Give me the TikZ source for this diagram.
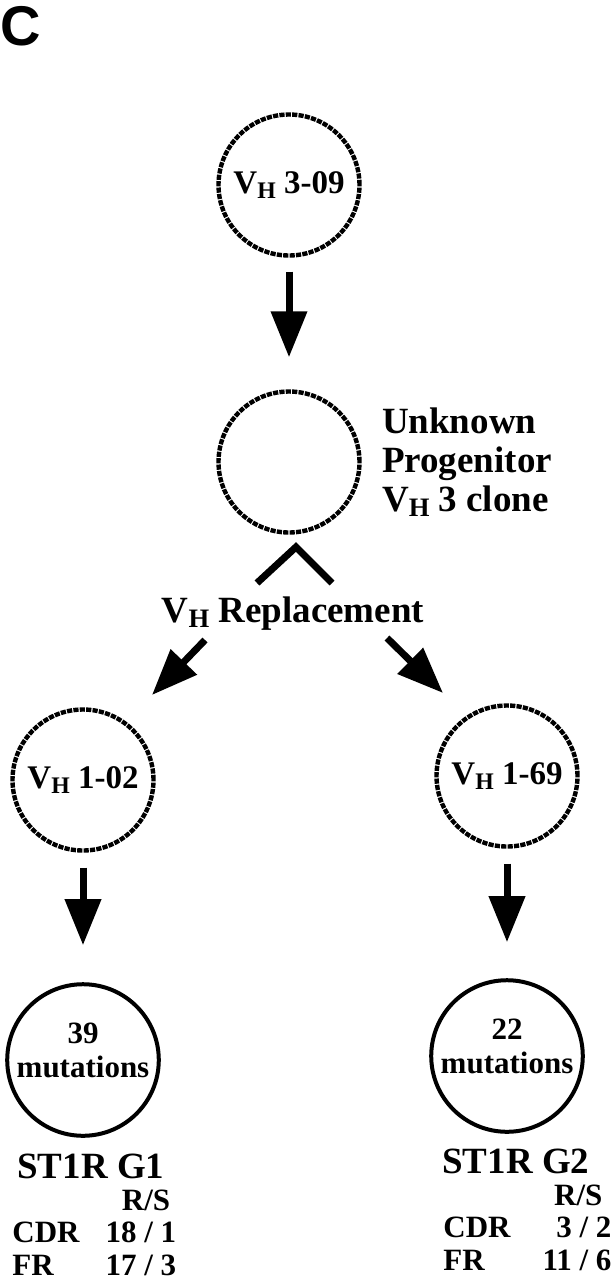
\documentclass[tikz,border=0pt]{standalone}
\usepackage{fontspec}
\setmainfont{Liberation Serif}
\newfontfamily\panelfont{Liberation Sans}
\usetikzlibrary{arrows.meta,positioning}
\newcommand{\vh}{V\raisebox{-0.14em}{\scalebox{0.72}{H}}}

\begin{document}
\begin{tikzpicture}[x=0.5pt, y=-0.5pt,
    clone/.style={circle, draw, line width=2.2pt, dash pattern=on 2.6pt off 0.6pt,
                  minimum size=70.5pt, inner sep=0pt, align=center,
                  font=\fontsize{16.5}{17}\selectfont\bfseries},
    mut/.style={circle, draw, line width=2pt, minimum size=70.5pt, inner sep=0pt,
                align=center, text depth=10pt, font=\fontsize{15.5}{17}\selectfont\bfseries},
    lab/.style={inner sep=0pt, font=\fontsize{18.5}{19.5}\selectfont\bfseries},
    rows/.style={inner sep=0pt, font=\fontsize{15.5}{16.25}\selectfont\bfseries},
    fat/.style={line width=3.5pt, -{Triangle[width=17.5pt, length=23pt]}},
    caret/.style={line width=3.5pt}
  ]
  \useasboundingbox (0,0) rectangle (614,1280);

  \node[anchor=base west, inner sep=0pt, font=\panelfont\bfseries\fontsize{28}{28}\selectfont] (panel) at (0,45) {C};

  % clones
  \node[clone] (v309) at (289,185) {\vh\ 3-09};
  \node[clone] (prog) at (289,462) {};
  \node[lab, right=10pt of prog, align=left] (progtext) {Unknown\\Progenitor\\\vh\ 3 clone};
  \draw[caret] (257,583) -- (296,547) -- (332,583);
  \node[lab, anchor=base] (rep) at (293,622) {\vh\ Replacement};

  \node[clone] (v102) at (83,780) {\vh\ 1-02};
  \node[clone] (v169) at (507,776) {\vh\ 1-69};
  \node[mut] (g1) at (83,1060) {39\\mutations};
  \node[mut] (g2) at (507,1056) {22\\mutations};

  \coordinate (lfrom) at (205,640);
  \coordinate (lto) at (152,695);
  \coordinate (rfrom) at (387,638);
  \coordinate (rto) at (443,693);

  % arrows
  \draw[fat, shorten <=7pt, shorten >=16pt] (v309) -- (prog);
  \draw[fat] (lfrom) -- (lto);
  \draw[fat] (rfrom) -- (rto);
  \draw[fat, shorten <=7.5pt, shorten >=18.5pt] (v102) -- (g1);
  \draw[fat, shorten <=7.5pt, shorten >=18pt] (v169) -- (g2);

  % groups
  \node[lab, anchor=base west] (g1name) at (17,1178) {ST1R G1};
  \node[rows, anchor=base west] (g1rs) at (12,1210) {\begin{tabular}[t]{@{}l@{\hspace{13pt}}r@{}}
    & R/S\kern3pt\\ CDR & 18 / 1\\ FR & 17 / 3 \end{tabular}};
  \node[lab, anchor=base west] (g2name) at (442,1173) {ST1R G2};
  \node[rows, anchor=base west] (g2rs) at (443,1205) {\begin{tabular}[t]{@{}l@{\hspace{16pt}}r@{}}
    & R/S\kern4.5pt\\ CDR & 3 / 2\\ FR & 11 / 6 \end{tabular}};
\end{tikzpicture}
\end{document}
